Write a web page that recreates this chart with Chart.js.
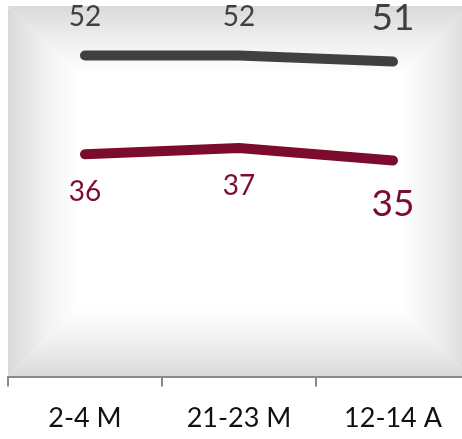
<!DOCTYPE html>
<html>
<head>
<meta charset="utf-8">
<script src="https://cdn.jsdelivr.net/npm/chart.js@4/dist/chart.umd.min.js"></script>
<style>
  html, body { margin: 0; padding: 0; background: #fff; overflow: hidden; }
  #wrap { width: 472px; height: 439px; position: relative; }
</style>
</head>
<body>
<div id="wrap"><canvas id="LineItem"></canvas></div>
<script>
const categories = ['2-4 M', '21-23 M', '12-14 A'];
const greySeries = [52, 52, 51];
const redSeries = [36, 37, 35];

(function () {
    const GREY = '#404040';
    const RED = '#7c0c2d';

    // rectangular grey-to-white gradient behind the plot
    const glowBg = {
        id: 'glowBg',
        beforeDraw(chart) {
            const { ctx, chartArea: a } = chart;
            const d = 70;
            const L = a.left, R = a.right, T = a.top, B = a.bottom;
            const sides = [
                [[L, T], [R, T], [R - d, T + d], [L + d, T + d], [0, T, 0, T + d]],
                [[L, B], [R, B], [R - d, B - d], [L + d, B - d], [0, B, 0, B - d]],
                [[L, T], [L, B], [L + d, B - d], [L + d, T + d], [L, 0, L + d, 0]],
                [[R, T], [R, B], [R - d, B - d], [R - d, T + d], [R, 0, R - d, 0]]
            ];
            ctx.save();
            ctx.fillStyle = '#ffffff';
            ctx.fillRect(L, T, R - L, B - T);
            sides.forEach(s => {
                const g = ctx.createLinearGradient(...s[4]);
                g.addColorStop(0, '#d9d9d9');
                g.addColorStop(0.5, '#f0f0f0');
                g.addColorStop(1, '#ffffff');
                ctx.fillStyle = g;
                ctx.beginPath();
                ctx.moveTo(...s[0]);
                ctx.lineTo(...s[1]);
                ctx.lineTo(...s[2]);
                ctx.lineTo(...s[3]);
                ctx.closePath();
                ctx.fill();
            });
            ctx.restore();
        }
    };

    // value labels: grey above, red below, last one bigger
    const valueLabels = {
        id: 'valueLabels',
        afterDatasetsDraw(chart) {
            const { ctx } = chart;
            ctx.save();
            ctx.textAlign = 'center';
            ctx.textBaseline = 'middle';
            chart.data.datasets.forEach((ds, i) => {
                const meta = chart.getDatasetMeta(i);
                const above = i === 0;
                meta.data.forEach((pt, j) => {
                    const big = j === meta.data.length - 1;
                    const size = big ? 37 : 28;
                    const off = big ? 44 : 38;
                    ctx.font = size + 'px Lato';
                    ctx.fillStyle = ds.borderColor;
                    ctx.fillText(ds.data[j], pt.x, above ? pt.y - off : pt.y + off);
                });
            });
            ctx.restore();
        }
    };

    new Chart(document.getElementById('LineItem'), {
        type: 'line',
        data: {
            labels: categories,
            datasets: [
                { label: 'A', data: greySeries, borderColor: GREY },
                { label: 'B', data: redSeries, borderColor: RED }
            ]
        },
        options: {
            responsive: true,
            maintainAspectRatio: false,
            animation: false,
            layout: { padding: { left: 8, right: 2, top: 6, bottom: -10 } },
            elements: {
                line: { borderWidth: 10, borderCapStyle: 'round', borderJoinStyle: 'round', tension: 0 },
                point: { radius: 0, hoverRadius: 0 }
            },
            plugins: { legend: { display: false }, tooltip: { enabled: false } },
            scales: {
                x: {
                    offset: true,
                    grid: { offset: true, drawOnChartArea: false, drawTicks: true, tickLength: 10, color: '#8a8a8a', lineWidth: 2 },
                    border: { color: '#8a8a8a', width: 2 },
                    ticks: { color: '#111', font: { family: 'Lato', size: 27 }, padding: 15 }
                },
                y: { display: false, min: 0, max: 60 }
            }
        },
        plugins: [glowBg, valueLabels]
    });
})();
</script>
</body>
</html>
